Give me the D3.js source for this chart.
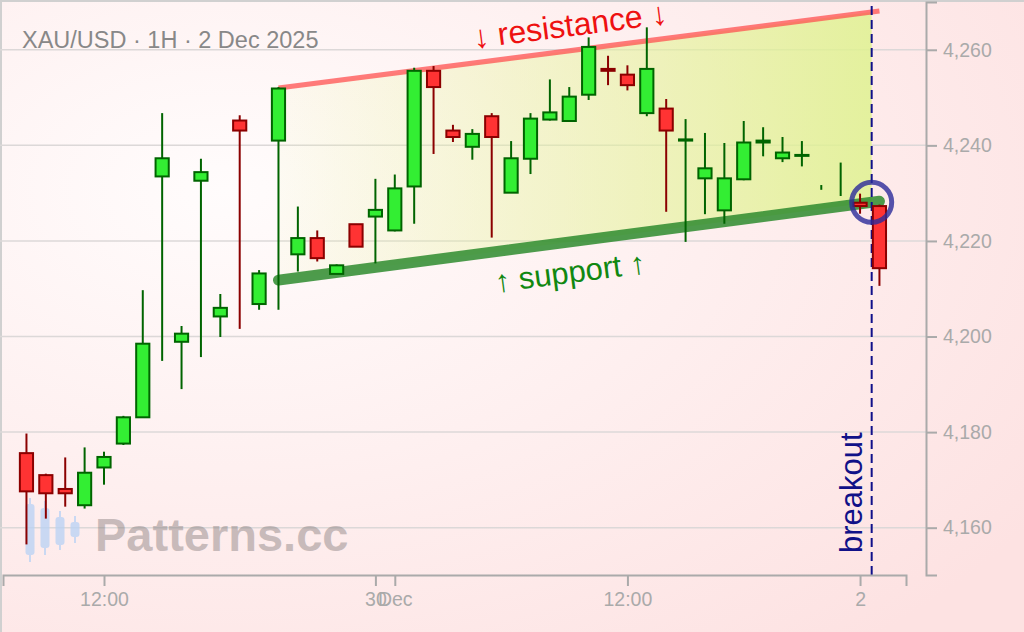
<!DOCTYPE html>
<html><head><meta charset="utf-8">
<script src="https://cdn.jsdelivr.net/npm/d3@7"></script>
<style>html,body{margin:0;padding:0;background:#fff;} svg{display:block;font-family:"Liberation Sans",Arial,sans-serif;}</style>
</head><body><svg id="chart" width="1024" height="632"></svg>
<script>
// ---- data (hourly candles, index = hour slot) ----
const opens  = [4175.6,4171.0,4168.1,4164.7,4172.6,4177.6,4183.1,4233.5,4198.9,4232.6,4204.2,4245.2,4206.8,4241.0,4217.2,4220.6,4213.1,4223.5,4225.1,4222.2,4231.4,4255.6,4243.1,4239.7,4246.1,4230.1,4237.2,4245.4,4245.1,4250.6,4256.0,4254.8,4246.75,4247.7,4241.0,4233.1,4226.4,4232.9,4240.6,4237.3,4237.8,4231.2,4232.0,4228.0,4227.3];
const highs  = [4179.7,4171.3,4174.7,4176.8,4175.9,4183.4,4209.7,4246.75,4202.2,4237.2,4208.9,4246.3,4213.9,4252.2,4227.2,4222.2,4215.1,4223.5,4233.0,4233.9,4256.25,4256.6,4244.3,4243.4,4246.75,4240.9,4246.75,4253.8,4252.2,4262.6,4258.75,4256.75,4264.7,4249.7,4245.5,4242.6,4240.5,4245.1,4243.8,4241.75,4240.9,4231.7,4236.4,4229.9,4227.6];
const lows   = [4156.5,4161.9,4164.4,4164.0,4169.0,4177.3,4183.0,4194.9,4189.0,4195.7,4199.9,4201.6,4205.6,4205.6,4213.6,4215.7,4213.1,4218.8,4215.3,4222.0,4223.6,4238.2,4240.7,4237.0,4220.7,4230.1,4234.0,4245.2,4245.1,4249.5,4252.6,4251.5,4246.1,4226.1,4219.8,4225.6,4223.6,4232.7,4237.7,4236.5,4235.6,4230.7,4229.4,4225.7,4210.6];
const closes = [4167.6,4167.2,4167.2,4171.5,4174.8,4183.1,4198.5,4237.3,4200.6,4234.4,4206.0,4243.1,4213.2,4251.9,4220.6,4216.4,4214.9,4218.8,4226.5,4231.0,4255.6,4252.2,4241.75,4242.4,4241.75,4237.3,4245.6,4246.9,4250.2,4260.6,4255.6,4252.6,4256.0,4243.1,4241.25,4235.2,4233.1,4240.6,4241.0,4238.5,4238.0,4231.2,4232.0,4227.3,4214.3];

const yTicks = [4160,4180,4200,4220,4240,4260];
const xTickIdx = [4,18,19,31,43];
const xTickLabels = ["12:00","30","Dec","12:00","2"];
const titleText = "XAU/USD · 1H · 2 Dec 2025";
const supportIdx = [13,44], supportVal = [4211.8,4228.3];
const resistIdx = [13,44], resistVal = [4252.0,4268.1];
const breakoutIdx = 43.6;

// ---- layout ----
const svg = d3.select("#chart");
const W = 1024, H = 632;
const x = d3.scaleLinear().domain([-1.21,45.37]).range([3,906]);
const y = d3.scaleLinear().domain([4150.1,4270]).range([575,2]);
const step = x(1)-x(0);

const defs = svg.append("defs");
const bg = defs.append("radialGradient").attr("id","bg").attr("cx","22%").attr("cy","30%").attr("r","95%");
bg.append("stop").attr("offset","0%").attr("stop-color","#fffcfc");
bg.append("stop").attr("offset","100%").attr("stop-color","#fde2e2");
svg.append("rect").attr("width",W).attr("height",H).attr("fill","url(#bg)");
svg.append("path").attr("d",`M1,${H}V1H${W}`).attr("fill","none").attr("stroke","#d0d0d0").attr("stroke-width",2);

// gridlines
svg.append("g").selectAll("line").data(yTicks).join("line")
  .attr("x1",0).attr("x2",926).attr("y1",d=>y(d)).attr("y2",d=>y(d))
  .attr("stroke","#dcd8d8").attr("stroke-width",1.5);

// watermark
const logoG = svg.append("g").attr("fill","#b8d2f5").attr("stroke","#b8d2f5").attr("opacity",0.75);
const logoHi=[498,501,511,516], logoTop=[504,508,517,522], logoBot=[555,548,545,537], logoLo=[562,555,550,543], logoCx=[30,45,60,75];
logoCx.forEach((cx,i)=>{
  logoG.append("line").attr("x1",cx).attr("x2",cx).attr("y1",logoHi[i]).attr("y2",logoLo[i]).attr("stroke-width",2);
  logoG.append("rect").attr("x",cx-4.5).attr("width",9).attr("y",logoTop[i]).attr("height",logoBot[i]-logoTop[i]).attr("rx",3).attr("stroke","none");
});
svg.append("text").attr("x",95).attr("y",551).attr("font-size",47).attr("font-weight","bold")
  .attr("fill","#787070").attr("opacity",0.4).text("Patterns.cc");

// channel fill
const fg = defs.append("linearGradient").attr("id","chan").attr("gradientUnits","userSpaceOnUse")
  .attr("x1",x(supportIdx[0])).attr("x2",x(breakoutIdx)).attr("y1",0).attr("y2",0);
fg.append("stop").attr("offset","0%").attr("stop-color","#e8f59a").attr("stop-opacity",0.08);
fg.append("stop").attr("offset","100%").attr("stop-color","#dff290").attr("stop-opacity",0.85);
const sAt = d3.scaleLinear().domain(supportIdx).range(supportVal);
const rAt = d3.scaleLinear().domain(resistIdx).range(resistVal);
const poly = [[supportIdx[0], rAt(supportIdx[0])],[breakoutIdx, rAt(breakoutIdx)],[breakoutIdx, sAt(breakoutIdx)],[supportIdx[0], sAt(supportIdx[0])]];
svg.append("path").attr("d", d3.line().x(d=>x(d[0])).y(d=>y(d[1]))(poly)+"Z").attr("fill","url(#chan)");

// resistance / support lines
svg.append("line").attr("x1",x(resistIdx[0])).attr("x2",x(resistIdx[1])).attr("y1",y(resistVal[0])).attr("y2",y(resistVal[1]))
  .attr("stroke","#ff5050").attr("stroke-opacity",0.75).attr("stroke-width",5);
svg.append("line").attr("x1",x(supportIdx[0])).attr("x2",x(supportIdx[1])).attr("y1",y(supportVal[0])).attr("y2",y(supportVal[1]))
  .attr("stroke","#2e8b2e").attr("stroke-opacity",0.85).attr("stroke-width",11).attr("stroke-linecap","round");

// breakout dashed line
svg.append("line").attr("x1",x(breakoutIdx)).attr("x2",x(breakoutIdx)).attr("y1",6).attr("y2",575)
  .attr("stroke","#10108a").attr("stroke-width",2).attr("stroke-dasharray","9,5");

// candles
const idx = d3.range(opens.length);
const cg = svg.append("g").selectAll("g").data(idx).join("g");
const up = i => closes[i] >= opens[i];
cg.append("line").attr("x1",i=>x(i)).attr("x2",i=>x(i)).attr("y1",i=>y(highs[i])).attr("y2",i=>y(lows[i]))
  .attr("stroke",i=>up(i)?"#006400":"#8b0000").attr("stroke-width",2);
cg.filter(i=>opens[i]!==closes[i]).append("rect")
  .attr("x",i=>x(i)-step*0.34).attr("width",step*0.68)
  .attr("y",i=>y(Math.max(opens[i],closes[i]))).attr("height",i=>Math.abs(y(opens[i])-y(closes[i])))
  .attr("fill",i=>up(i)?"#33ee33":"#ff3333").attr("stroke",i=>up(i)?"#006400":"#8b0000").attr("stroke-width",2);

// breakout circle
svg.append("circle").attr("cx",x(breakoutIdx)).attr("cy",y(sAt(breakoutIdx))).attr("r",20)
  .attr("fill","none").attr("stroke","#2a2a9a").attr("stroke-opacity",0.8).attr("stroke-width",5);

// axes
const yAxis = svg.append("g").attr("transform","translate(926,0)")
  .call(d3.axisRight(y).tickValues(yTicks).tickSize(11).tickPadding(6).tickFormat(d3.format(",")));
const xAxis = svg.append("g").attr("transform","translate(0,575)")
  .call(d3.axisBottom(x).tickValues(xTickIdx).tickSize(11).tickPadding(6).tickFormat((d,i)=>xTickLabels[i]));
[yAxis,xAxis].forEach(a=>{
  a.selectAll("path,line").attr("stroke","#aaa").attr("stroke-width",2);
  a.selectAll("text").attr("fill","#aaa").attr("font-size",19.5).attr("font-family","Liberation Sans,Arial,sans-serif");
});

// labels
svg.append("text").attr("x",22).attr("y",48).attr("font-size",23.5).attr("fill","#888").text(titleText);
const ang = Math.atan2(y(resistVal[1])-y(resistVal[0]), x(resistIdx[1])-x(resistIdx[0]))*180/Math.PI;
svg.append("text").attr("transform",`translate(570,25) rotate(${ang})`).attr("text-anchor","middle").attr("dy","0.35em")
  .attr("font-size",32).attr("fill","#ee1111").text("↓ resistance ↓");
svg.append("text").attr("transform",`translate(570,272) rotate(${ang})`).attr("text-anchor","middle").attr("dy","0.35em")
  .attr("font-size",31).attr("fill","#118811").text("↑ support ↑");
svg.append("text").attr("transform","translate(862,553) rotate(-90)").attr("font-size",31).attr("fill","#111188").text("breakout");
</script></body></html>
